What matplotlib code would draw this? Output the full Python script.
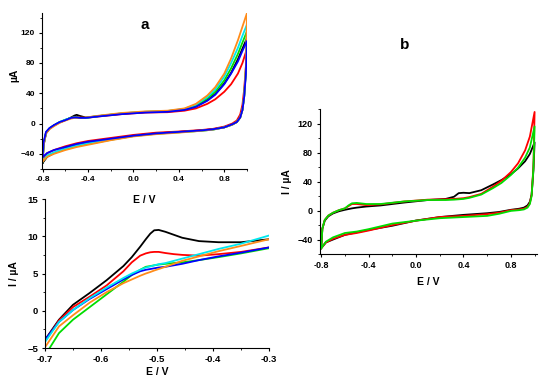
import matplotlib
matplotlib.use("Agg")
import matplotlib.pyplot as plt
from matplotlib.ticker import MultipleLocator

plt.rcParams['font.family'] = ['Liberation Sans', 'DejaVu Sans']
plt.rcParams['font.weight'] = 'bold'

# ---- panel a (full CV, six curves) ----
a_e_fwd = [-0.8, -0.79, -0.77, -0.74, -0.7, -0.65, -0.6, -0.55, -0.52, -0.5, -0.47, -0.42,
           -0.3, -0.1, 0.1, 0.3, 0.45, 0.55, 0.65, 0.72, 0.8, 0.86, 0.92, 0.96, 1.0]
a_e_rev = [1.0, 0.99, 0.975, 0.96, 0.94, 0.91, 0.87, 0.8, 0.7, 0.6, 0.4, 0.2, 0.0,
           -0.2, -0.4, -0.5, -0.6, -0.7, -0.76, -0.8]

a_black_fwd = [-52, -28, -13, -7, -2.5, 1.5, 4.5, 8, 10.5, 11.5, 10, 8, 10, 13, 15, 16, 19, 23, 31, 39, 53, 67, 85, 99, 113]
a_red_fwd = [-48, -26, -12, -6.5, -2.5, 1.5, 4.5, 7.5, 8.5, 9, 8, 7.5, 9.5, 12.5, 14.5, 15, 17, 20, 26, 32, 42, 52, 66, 80, 99]
a_blue_fwd = [-44, -24, -11, -6, -2, 2, 4.5, 7.5, 8, 8, 7.5, 7.5, 9.5, 12.5, 14.5, 15.5, 18, 22, 30, 38, 52, 66, 82, 96, 109]
a_green_fwd = [-50, -27, -12, -6.5, -2.5, 2, 5, 7.5, 8, 8, 7.5, 7.5, 10, 13.5, 15.5, 16.5, 19, 24, 33, 42, 57, 73, 92, 107, 122]
a_cyan_fwd = [-50, -27, -12, -6.5, -2.5, 2, 5, 7.5, 8, 8, 7.5, 7.5, 10, 13.5, 15.5, 16.5, 19.5, 25, 35, 45, 62, 80, 100, 116, 131]
a_orange_fwd = [-50, -28, -13, -7.5, -3.5, 1, 4, 6.5, 7.5, 7.5, 7.5, 8, 10.5, 14, 16, 17, 20, 26, 37, 48, 66, 86, 110, 128, 146]

a_black_rev = [113, 68, 36, 19, 8, 2, -1, -5, -7.5, -9, -11, -13, -16, -21, -26, -29, -33, -39, -44, -52]
a_red_rev = [99, 75, 45, 25, 12, 4, 0, -4, -7, -8.5, -10.5, -12, -15, -19, -23, -26, -30, -35, -39, -48]
a_blue_rev = [109, 65, 35, 18, 8, 2, -1, -5, -7.5, -9, -11, -13, -16, -20, -24, -27, -31, -35, -39, -44]
a_green_rev = [122, 70, 36, 18, 8, 2, -1.5, -5, -8, -9.5, -11.5, -13.5, -16.5, -21.5, -27, -30, -34, -39, -43, -50]
a_cyan_rev = [131, 72, 36, 18, 8, 2, -1.5, -5, -8, -9.5, -11.5, -13.5, -16.5, -21, -26, -29, -33, -38, -42, -50]
a_orange_rev = [146, 75, 36, 18, 8, 2, -1.5, -5, -8, -9.5, -12, -14, -17, -22, -28, -31, -35, -40, -44, -50]

# ---- zoomed region of panel a ----
z_e = [-0.70, -0.675, -0.65, -0.62, -0.59, -0.56, -0.545, -0.53, -0.52, -0.512, -0.505,
       -0.497, -0.485, -0.47, -0.455, -0.425, -0.39, -0.35, -0.30]
z_black = [-3.9, -1.2, 0.8, 2.4, 4.1, 6.0, 7.2, 8.6, 9.6, 10.35, 10.8, 10.85, 10.6, 10.2, 9.8, 9.35, 9.2, 9.2, 9.6]
z_red = [-4.1, -1.3, 0.5, 1.9, 3.4, 5.3, 6.5, 7.4, 7.7, 7.85, 7.9, 7.9, 7.75, 7.6, 7.5, 7.4, 7.6, 7.9, 8.5]
z_blue = [-3.9, -1.5, 0.1, 1.6, 2.9, 4.2, 4.8, 5.3, 5.5, 5.6, 5.7, 5.8, 5.9, 6.1, 6.3, 6.8, 7.3, 7.8, 8.5]
z_green = [-6.0, -3.0, -1.2, 0.5, 2.2, 3.9, 4.8, 5.5, 5.9, 6.0, 6.1, 6.2, 6.3, 6.4, 6.5, 6.8, 7.2, 7.7, 8.4]
z_cyan = [-4.2, -1.5, 0.1, 1.7, 3.1, 4.4, 5.0, 5.5, 5.8, 5.95, 6.1, 6.25, 6.4, 6.7, 7.0, 7.6, 8.3, 9.0, 10.1]
z_orange = [-4.9, -2.1, -0.6, 1.1, 2.5, 3.7, 4.2, 4.7, 5.0, 5.2, 5.4, 5.6, 5.9, 6.3, 6.7, 7.3, 8.0, 8.7, 9.6]

# ---- panel b (three curves) ----
b_e_fwd = [-0.8, -0.79, -0.77, -0.74, -0.7, -0.65, -0.6, -0.57, -0.54, -0.5, -0.42, -0.3, -0.1,
           0.1, 0.25, 0.32, 0.36, 0.4, 0.45, 0.55, 0.65, 0.72, 0.8, 0.86, 0.92, 0.96, 1.0]
b_e_rev = [1.0, 0.99, 0.975, 0.96, 0.94, 0.91, 0.87, 0.8, 0.7, 0.6, 0.4, 0.2, 0.0,
           -0.2, -0.4, -0.5, -0.6, -0.7, -0.76, -0.8]
b_black_fwd = [-52, -25, -14, -8, -4, -1, 1, 2, 3, 4, 5.5, 7, 11, 14.5, 16, 19, 24, 24.5, 24, 28, 36, 42, 50, 58, 68, 78, 94]
b_red_fwd = [-52, -25, -13, -7, -3, 0.5, 3, 6, 9, 9, 7.5, 8.5, 12.5, 15, 15.5, 16, 16.5, 17, 18.5, 23, 33, 41, 53, 65, 83, 102, 136]
b_green_fwd = [-52, -25, -13, -7, -3, 0.5, 3, 7, 10, 10.5, 9, 9, 12.5, 14.5, 14.5, 15, 15.5, 16, 17.5, 22, 31, 38, 49, 59, 73, 87, 116]
b_black_rev = [94, 55, 22, 12, 7, 4, 2.5, 1, -2, -3.7, -6, -9, -13.8, -21, -26.7, -30, -33.6, -40, -44, -52]
b_red_rev = [136, 60, 22, 10, 5, 2.5, 1.5, 0.5, -3, -5, -7.4, -9, -14, -20, -27.6, -31, -33.6, -39, -44, -52]
b_green_rev = [116, 58, 20, 9, 4, 1.5, 0.5, -0.5, -4.5, -7.4, -9, -10.6, -14, -18, -25.7, -29, -31, -37, -43, -52]

BLACK, RED, BLUE = '#000000', '#ff0000', '#0000ff'
GREEN, CYAN, ORANGE = '#00dd00', '#00e8f0', '#ff8c1a'
lw = 1.3


def style(ax, size=6.3):
    ax.spines['top'].set_visible(False)
    ax.spines['right'].set_visible(False)
    ax.tick_params(which='major', direction='out', length=2.5, width=0.8, labelsize=size, pad=2.5)
    ax.tick_params(which='minor', direction='out', length=1.5, width=0.6)
    for lab in ax.get_xticklabels() + ax.get_yticklabels():
        lab.set_fontweight('bold')


fig = plt.figure(figsize=(5.5, 3.82), dpi=100)

# zoomed panel (drawn first so label of panel a sits on top)
ax2 = fig.add_axes([0.0818, 0.089, 0.4073, 0.390])
ax2.patch.set_alpha(0)
for y, c in [(z_black, BLACK), (z_red, RED), (z_green, GREEN), (z_blue, BLUE),
             (z_cyan, CYAN), (z_orange, ORANGE)]:
    ax2.plot(z_e, y, color=c, lw=lw)
ax2.set_xlim(-0.7, -0.3)
ax2.set_ylim(-5, 15)
ax2.xaxis.set_major_locator(MultipleLocator(0.1))
ax2.xaxis.set_minor_locator(MultipleLocator(0.05))
ax2.yaxis.set_major_locator(MultipleLocator(5))
ax2.yaxis.set_minor_locator(MultipleLocator(2.5))
ax2.set_xticks([-0.7, -0.6, -0.5, -0.4, -0.3])
ax2.set_xticklabels(['-0.7', '-0.6', '-0.5', '-0.4', '-0.3'])
ax2.set_xlabel('E / V', fontsize=7.5, fontweight='bold', labelpad=2)
ax2.set_ylabel('I / µA', fontsize=7.5, fontweight='bold', labelpad=6)
style(ax2, 6.8)

# panel a
ax1 = fig.add_axes([0.0764, 0.5576, 0.3727, 0.4084])
ax1.patch.set_alpha(0)
for fwd, rev, c in [(a_black_fwd, a_black_rev, BLACK), (a_red_fwd, a_red_rev, RED),
                    (a_green_fwd, a_green_rev, GREEN), (a_cyan_fwd, a_cyan_rev, CYAN),
                    (a_orange_fwd, a_orange_rev, ORANGE), (a_blue_fwd, a_blue_rev, BLUE)]:
    ax1.plot(a_e_fwd + a_e_rev, fwd + rev, color=c, lw=lw)
ax1.set_xlim(-0.805, 1.0)
ax1.set_ylim(-60, 146)
ax1.xaxis.set_major_locator(MultipleLocator(0.4))
ax1.xaxis.set_minor_locator(MultipleLocator(0.2))
ax1.yaxis.set_major_locator(MultipleLocator(40))
ax1.yaxis.set_minor_locator(MultipleLocator(20))
ax1.set_xticks([-0.8, -0.4, 0.0, 0.4, 0.8])
ax1.set_xticklabels(['-0.8', '-0.4', '0.0', '0.4', '0.8'])
ax1.set_xlabel('E / V', fontsize=7.5, fontweight='bold')
ax1.xaxis.set_label_coords(0.5, -0.165)
ax1.set_ylabel('µA', fontsize=7.5, fontweight='bold')
ax1.yaxis.set_label_coords(-0.11, 0.6)
ax1.text(0.5, 0.92, 'a', transform=ax1.transAxes, fontsize=11, fontweight='bold',
         ha='center', va='center')
style(ax1, 6.0)

# panel b
ax3 = fig.add_axes([0.5818, 0.335, 0.3945, 0.3796])
for fwd, rev, c in [(b_black_fwd, b_black_rev, BLACK), (b_red_fwd, b_red_rev, RED),
                    (b_green_fwd, b_green_rev, GREEN)]:
    ax3.plot(b_e_fwd + b_e_rev, fwd + rev, color=c, lw=lw)
ax3.set_xlim(-0.81, 1.02)
ax3.set_ylim(-60, 140)
ax3.xaxis.set_major_locator(MultipleLocator(0.4))
ax3.xaxis.set_minor_locator(MultipleLocator(0.2))
ax3.yaxis.set_major_locator(MultipleLocator(40))
ax3.yaxis.set_minor_locator(MultipleLocator(20))
ax3.set_xticks([-0.8, -0.4, 0.0, 0.4, 0.8])
ax3.set_xticklabels(['-0.8', '-0.4', '0.0', '0.4', '0.8'])
ax3.set_xlabel('E / V', fontsize=7.5, fontweight='bold', labelpad=5)
ax3.set_ylabel('I / µA', fontsize=7.5, fontweight='bold', labelpad=4)
style(ax3, 6.5)
fig.text(0.736, 0.882, 'b', fontsize=11, fontweight='bold', ha='center', va='center')

fig.savefig('out.png', dpi=100)
